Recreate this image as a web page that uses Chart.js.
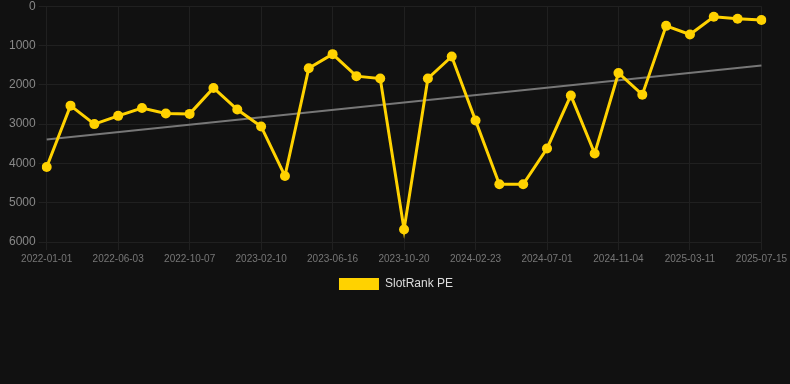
<!DOCTYPE html>
<html>
<head>
<meta charset="utf-8">
<script src="https://cdn.jsdelivr.net/npm/chart.js@4"></script>
<style>
  html, body { margin: 0; padding: 0; background: #111111; overflow: hidden; }
  .wrap { position: relative; width: 790px; height: 304px; margin-top: -4px; }
</style>
</head>
<body>
<div class="wrap"><canvas id="rankChart"></canvas></div>
<script>
// rank values (lower = better, axis is reversed)
const dates = [
  '2022-01-01', '2022-03-11', '2022-04-22', '2022-06-03', '2022-07-15', '2022-08-26',
  '2022-10-07', '2022-11-18', '2022-12-30', '2023-02-10', '2023-03-24', '2023-05-05',
  '2023-06-16', '2023-07-28', '2023-09-08', '2023-10-20', '2023-12-01', '2024-01-12',
  '2024-02-23', '2024-04-06', '2024-05-19', '2024-07-01', '2024-08-12', '2024-09-23',
  '2024-11-04', '2024-12-16', '2025-01-27', '2025-03-11', '2025-04-22', '2025-06-03',
  '2025-07-15'
];
const rankPE = [
  4090, 2530, 3000, 2790, 2590, 2730, 2740, 2080, 2630, 3060,
  4320, 1580, 1220, 1780, 1840, 5680, 1840, 1280, 2910, 4530,
  4530, 3620, 2270, 3750, 1700, 2250, 500, 720, 270, 320,
  350
];
const trendStart = 3390;
const trendEnd = 1510;
const yTicks = [0, 1000, 2000, 3000, 4000, 5000, 6000];

Chart.defaults.font.family = 'Helvetica, Arial, "Liberation Sans", sans-serif';

const ctx = document.getElementById('rankChart').getContext('2d');

new Chart(ctx, {
  type: 'line',
  data: {
    labels: dates,
    datasets: [
      {
        label: 'SlotRank PE',
        data: rankPE,
        borderColor: '#ffd200',
        backgroundColor: '#ffd200',
        borderWidth: 3,
        tension: 0,
        pointRadius: 5,
        pointBackgroundColor: '#ffd200',
        pointBorderWidth: 0
      },
      {
        label: 'trend',
        data: [
          { x: dates[0], y: trendStart },
          { x: dates[dates.length - 1], y: trendEnd }
        ],
        borderColor: '#777777',
        borderWidth: 2,
        pointRadius: 0,
        tension: 0
      }
    ]
  },
  options: {
    responsive: true,
    maintainAspectRatio: false,
    animation: false,
    layout: { padding: { left: 6, right: 4 } },
    plugins: {
      legend: {
        position: 'bottom',
        labels: {
          color: '#dddddd',
          font: { size: 12 },
          boxWidth: 40,
          boxHeight: 12,
          generateLabels: chart => [{
            text: chart.data.datasets[0].label,
            fillStyle: '#ffd200',
            strokeStyle: '#ffd200',
            lineWidth: 0,
            fontColor: '#dddddd',
            datasetIndex: 0
          }]
        }
      },
      tooltip: { enabled: false }
    },
    scales: {
      x: {
        grid: {
          color: c => (c.index % 3 === 0 ? '#202020' : 'rgba(0,0,0,0)')
        },
        border: { display: false },
        ticks: {
          color: '#777777',
          font: { size: 10 },
          autoSkip: false,
          maxRotation: 0,
          callback: function (val, i) { return i % 3 === 0 ? dates[i] : ''; }
        }
      },
      y: {
        reverse: true,
        min: yTicks[0],
        max: yTicks[yTicks.length - 1],
        grid: { color: '#202020' },
        border: { display: false },
        ticks: {
          stepSize: 1000,
          color: '#888888',
          font: { size: 12 },
          callback: v => String(v)
        }
      }
    }
  }
});
</script>
</body>
</html>
